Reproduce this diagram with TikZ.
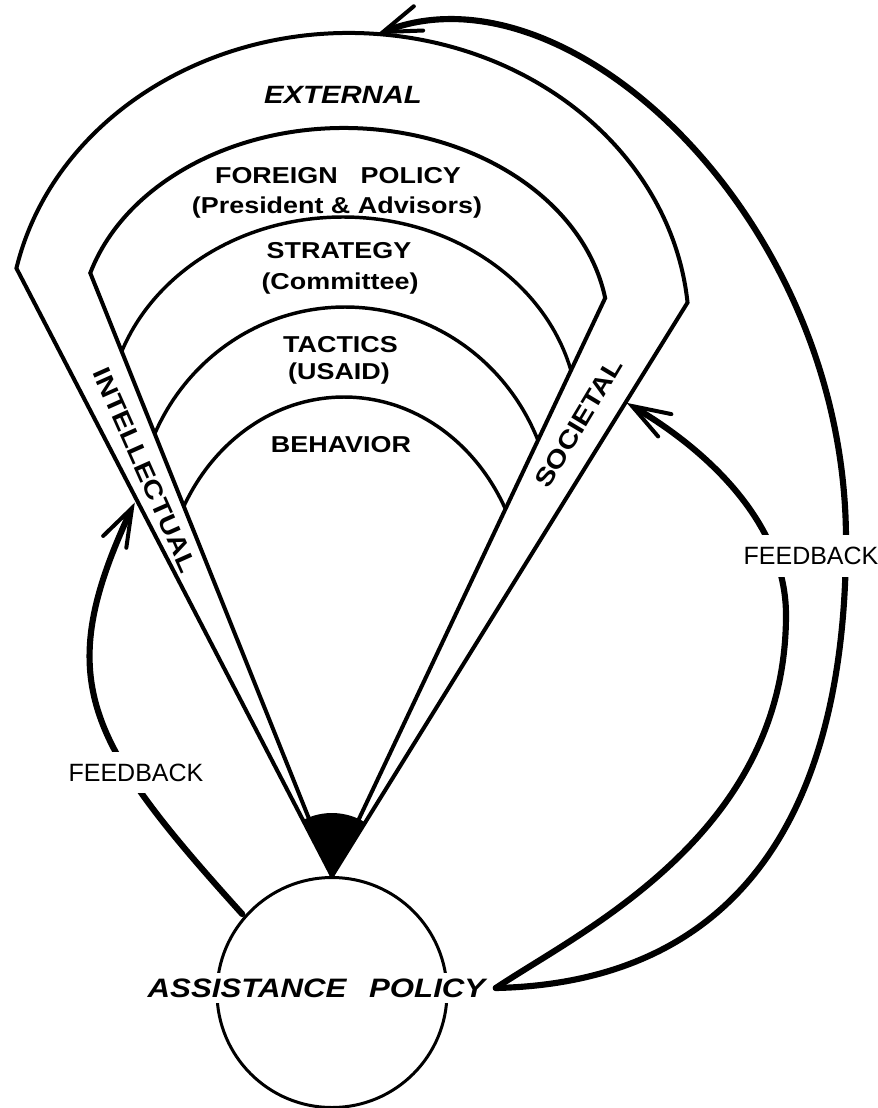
\documentclass[tikz,border=0pt]{standalone}
\usepackage{fontspec}
\setmainfont{Liberation Sans}
\newfontfamily\widesans[FakeStretch=1.17]{Liberation Sans}
\usetikzlibrary{calc}

\tikzset{every picture/.style={line width=0.75pt}}
\tikzset{
  fan line/.style={line width=3pt, line join=miter},
  layer arc/.style={line width=2.6pt},
  feedback/.style={line width=4.6pt, line cap=round},
  barb/.style={line width=3pt, line cap=round, line join=miter},
  layer label/.style={font=\widesans\bfseries\fontsize{17.25}{20}\selectfont, anchor=base, inner sep=0pt},
  band label/.style={font=\widesans\bfseries\fontsize{18.75}{20}\selectfont, inner sep=0pt},
  fb label/.style={font=\fontsize{18.75}{20}\selectfont, fill=white, inner xsep=2pt, inner ysep=9pt},
}

\begin{document}
\begin{tikzpicture}[x=0.75pt,y=0.75pt,yscale=-1,xscale=1]
\useasboundingbox (0,0) rectangle (878,1108);

% Circle
\node [draw, circle, line width=2.25pt, minimum size=172.5pt, inner sep=0pt] (assist) at (332,992.5) {};
\coordinate (apex) at (assist.north);

% Outer fan
\coordinate (extC) at (349,330);
\coordinate (extL) at ($(extC)+(192:340 and 297)$);
\draw [fan line] (apex) -- (extL) arc [start angle=192, end angle=354.7, x radius=340, y radius=297] -- (apex);

% Inner fan
\coordinate (fpC) at (344,330);
\coordinate (fpL) at ($(fpC)+(196.4:264.5 and 202)$);
\coordinate (fpR) at ($(fpC)+(350.9:264.5 and 202)$);
\draw [fan line] (apex) -- (fpL) arc [start angle=196.4, end angle=350.9, x radius=264.5, y radius=202] -- (apex);

% Arcs
\begin{scope}
\clip (apex) -- ($(apex)!1.4!(fpL)$) -- ($(apex)!1.4!(fpR)$) -- cycle;
\draw [layer arc] (108,420) arc [start angle=180, end angle=360, x radius=235, y radius=203];
\draw [layer arc] (137,520) arc [start angle=180, end angle=360, x radius=208, y radius=213];
\draw [layer arc] (163.5,600) arc [start angle=180, end angle=360, x radius=180.5, y radius=203];
\end{scope}

% Wedge
\fill (apex) -- ++(242.6:63) arc [start angle=242.6, end angle=301.7, radius=63] -- cycle;

% Text Node
\node [layer label, font=\widesans\bfseries\itshape\fontsize{18.75}{20}\selectfont] (ext) at (343,103) {EXTERNAL};
\node [layer label] (fpol) at (338,183) {FOREIGN\hspace{1em}POLICY};
\node [layer label] (fpolsub) at (337,213) {(President \& Advisors)};
\node [layer label] (strat) at (339,258) {STRATEGY};
\node [layer label] (stratsub) at (340,289) {(Committee)};
\node [layer label] (tact) at (340.5,352) {TACTICS};
\node [layer label] (tactsub) at (339,379) {(USAID)};
\node [layer label] (behav) at (341,452) {BEHAVIOR};
\node [band label, rotate=-66] (intel) at (145,470) {INTELLECTUAL};
\node [band label, rotate=59] (soc) at (579,423) {SOCIETAL};
\node [font=\widesans\bfseries\itshape\fontsize{20}{22}\selectfont, fill=white, inner xsep=7.5pt, inner ysep=4.5pt] (apol) at (316.5,988) {ASSISTANCE\hspace{0.85em}POLICY};

% Connection
\coordinate (tipL) at (132,508);
\coordinate (tipR) at (632,406);
\coordinate (tipT) at (383,32);
\draw [feedback, shorten <=2pt, shorten >=3pt] (assist.139) .. controls (85,740) and (52,680) .. (tipL);
\draw [barb, shift={(tipL)}, rotate=-63] (-38,-13) -- (0,0) -- (-38,13);
% Connection
\draw [feedback, shorten >=3pt] (apol.east) .. controls (580.6,931) and (786,835) .. (786,615) .. controls (786,525) and (709.6,451.7) .. (tipR);
\draw [barb, shift={(tipR)}, rotate=210.5] (-38,-13) -- (0,0) -- (-38,13);
% Connection
\draw [feedback, shorten >=3pt] (apol.east) .. controls (725,983) and (846,830) .. (846,540) .. controls (846,220) and (569.8,-39.6) .. (tipT);
\draw [barb, shift={(tipT)}, rotate=159] (-38,-13) -- (0,0) -- (-38,13);

% Text Node
\node [fb label] (fbl) at (136,772.5) {FEEDBACK};
\node [fb label] (fbr) at (811,556) {FEEDBACK};

\end{tikzpicture}
\end{document}
